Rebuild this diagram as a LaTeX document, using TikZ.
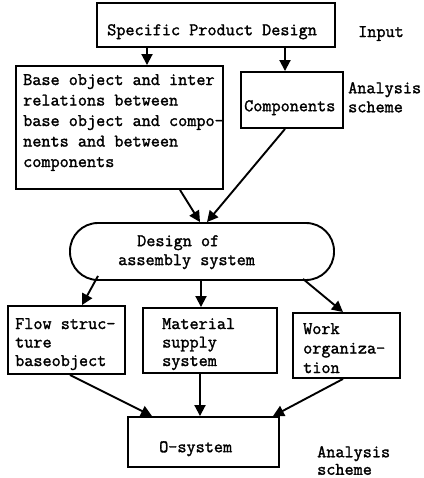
\documentclass[tikz,border=0pt]{standalone}
\usepackage{fontspec}
\setmonofont{Latin Modern Mono}[FakeBold=1.6]
\usetikzlibrary{arrows.meta,calc}
\begin{document}
\begin{tikzpicture}[x=1pt,y=-1pt,
  box/.style={draw,line width=1.9pt,inner sep=0pt},
  lbl/.style={inner sep=0pt,anchor=north west,align=left,
    font=\ttfamily\fontsize{17.7}{20.5}\selectfont},
  arr/.style={line width=1.9pt,-{Triangle[length=11pt,width=11pt]}}]
\useasboundingbox (0,0) rectangle (423,478);
% boxes
\node[box,minimum width=238pt,minimum height=44pt] (top) at (216,25) {};
\node[box,minimum width=207pt,minimum height=123pt] (base) at (119.5,127.5) {};
\node[box,minimum width=102pt,minimum height=56pt] (comp) at (292,100) {};
\node[box,rounded corners=28pt,minimum width=264pt,minimum height=57pt] (design) at (202,251.5) {};
\node[box,minimum width=117pt,minimum height=68pt] (flow) at (66.5,340) {};
\node[box,minimum width=134pt,minimum height=65pt] (mat) at (210,340.5) {};
\node[box,minimum width=107pt,minimum height=65pt] (work) at (346.5,345.5) {};
\node[box,minimum width=151pt,minimum height=50pt] (osys) at (203.5,442) {};
% texts
\node[lbl] (ttop) at (107,24) {Specific Product Design};
\node[lbl] (tin) at (358,26) {Input};
\node[lbl] (tbase) at (23,74) {Base object and inter\\relations between\\base object and compo-\\nents and between\\components};
\node[lbl] (tcomp) at (244,100) {Components};
\node[lbl,font=\ttfamily\fontsize{17.7}{19}\selectfont] (tan1) at (348,82) {Analysis\\scheme};
\node[lbl,font=\ttfamily\fontsize{17.7}{19}\selectfont] (tdes) at (118,235) {\hspace*{19pt}Design of\\assembly system};
\node[lbl,font=\ttfamily\fontsize{17.7}{18.5}\selectfont] (tflow) at (15,318) {Flow struc-\\ture\\baseobject};
\node[lbl,font=\ttfamily\fontsize{17.7}{18.5}\selectfont] (tmat) at (162,318) {Material\\supply\\system};
\node[lbl,font=\ttfamily\fontsize{17.7}{19.5}\selectfont] (twork) at (303,323) {Work\\organiza-\\tion};
\node[lbl] (tos) at (159,441) {O-system};
\node[lbl,font=\ttfamily\fontsize{17.7}{17.5}\selectfont] (tan2) at (317,446) {Analysis\\scheme};
% arrows
\draw[arr] ([xshift=-69pt]top.south) -- ([xshift=27.5pt]base.north);
\draw[arr] ([xshift=69pt]top.south) -- ([xshift=-7pt]comp.north);
\draw[arr] ([xshift=60.5pt]base.south) -- ([xshift=-2pt]design.north);
\draw[arr] ([xshift=-7pt]comp.south) -- ([xshift=5pt]design.north);
\draw[arr] ([xshift=-104pt,yshift=5pt]design.south) -- ([xshift=15.5pt]flow.north);
\draw[arr] ([xshift=-1pt]design.south) -- ([xshift=-9pt]mat.north);
\draw[arr] ([xshift=101pt,yshift=2pt]design.south) -- ([xshift=-3.5pt]work.north);
\draw[arr] ([xshift=3.5pt]flow.south) -- ([xshift=-51.5pt]osys.north);
\draw[arr] ([xshift=-10pt]mat.south) -- ([xshift=-3.5pt]osys.north);
\draw[arr] ([xshift=-3.5pt]work.south) -- ([xshift=69.5pt]osys.north);
\end{tikzpicture}
\end{document}
